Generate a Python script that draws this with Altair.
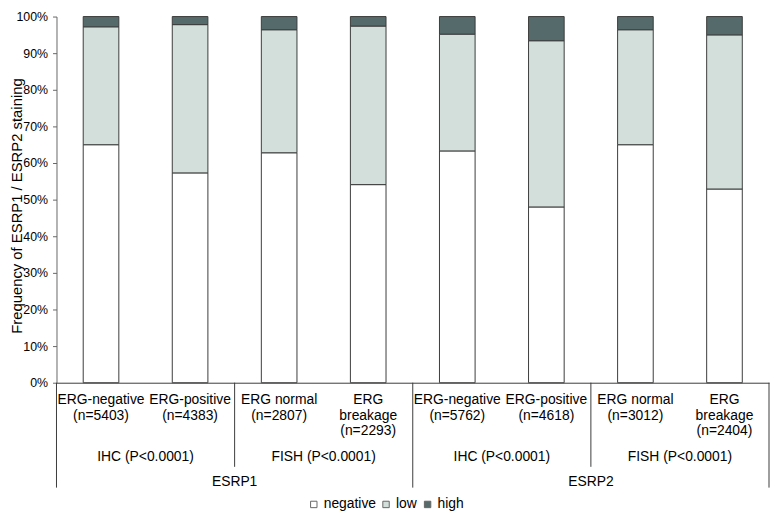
import altair as alt
import pandas as pd

# ---- data ----
markers = ["ESRP1", "ESRP2"]
methods = ["IHC (P<0.0001)", "FISH (P<0.0001)", "IHC (P<0.0001)", "FISH (P<0.0001)"]
categories = ["ERG-negative", "ERG-positive", "ERG normal", "ERG breakage",
              "ERG-negative", "ERG-positive", "ERG normal", "ERG breakage"]
n_values = [5403, 4383, 2807, 2293, 5762, 4618, 3012, 2404]
negative = [65.0, 57.3, 62.8, 54.1, 63.3, 48.0, 65.0, 52.9]
low = [32.2, 40.5, 33.6, 43.3, 31.9, 45.4, 31.4, 42.1]
high = [2.8, 2.2, 3.6, 2.6, 4.8, 6.6, 3.6, 5.0]
levels = ["negative", "low", "high"]
level_colors = ["#ffffff", "#d3dfdb", "#556a6a"]

# ---- layout ----
W, H = 720, 370
FONT = "Liberation Sans"

rows = []
for i in range(len(categories)):
    base = 0.0
    for lvl, vals in zip(levels, [negative, low, high]):
        rows.append({"idx": i, "x0": i + 0.3, "x1": i + 0.7, "level": lvl,
                     "order": levels.index(lvl), "y0": base, "y1": base + vals[i]})
        base += vals[i]
bars = pd.DataFrame(rows)

cat_df = pd.DataFrame({
    "pos": [i + 0.5 for i in range(len(categories))],
    "label": [(c.replace(" ", "\n") if c == "ERG breakage" else c) + f"\n(n={n})"
              for c, n in zip(categories, n_values)],
})
meth_df = pd.DataFrame({"pos": [2 * k + 1 for k in range(len(methods))], "label": methods})
mark_df = pd.DataFrame({"pos": [4 * k + 2 for k in range(len(markers))], "label": markers})
outer_df = pd.DataFrame({"pos": [0, 4, 8]})
inner_df = pd.DataFrame({"pos": [2, 6]})

xscale = alt.Scale(domain=[0, len(categories)], nice=False, zero=False)
yscale = alt.Scale(domain=[0, 100], nice=False)

bar_layer = alt.Chart(bars).mark_bar(stroke="#3c3c3c", strokeWidth=1).encode(
    x=alt.X("x0:Q", scale=xscale,
            axis=alt.Axis(labels=False, ticks=False, grid=False, title=None,
                          domainColor="#3c3c3c")),
    x2="x1:Q",
    y=alt.Y("y0:Q", scale=yscale,
            axis=alt.Axis(values=list(range(0, 101, 10)), labelExpr="datum.value + '%'",
                          tickSize=4, labelPadding=5, labelFontSize=12.5,
                          labelColor="#000", domainColor="#666", tickColor="#666",
                          grid=False, title="Frequency of ESRP1 / ESRP2 staining",
                          titleFontSize=15, titleFontWeight="normal", titleColor="#000",
                          titleAngle=270, titleX=-32, titleY=H / 2 + 6)),
    y2="y1:Q",
    fill=alt.Fill("level:N", scale=alt.Scale(domain=levels, range=level_colors),
                  legend=alt.Legend(title=None, orient="none", direction="horizontal",
                                    legendX=253, legendY=H + 116,
                                    symbolType="square", symbolSize=42,
                                    symbolStrokeColor="#666", symbolStrokeWidth=1,
                                    labelFontSize=14, labelColor="#000",
                                    labelOffset=3, columnPadding=3)),
    order=alt.Order("order:Q"),
)

outer_rules = alt.Chart(outer_df).mark_rule(color="#3c3c3c", strokeWidth=1).encode(
    x=alt.X("pos:Q", scale=xscale), y=alt.value(H), y2=alt.value(H + 106))
inner_rules = alt.Chart(inner_df).mark_rule(color="#3c3c3c", strokeWidth=1).encode(
    x=alt.X("pos:Q", scale=xscale), y=alt.value(H), y2=alt.value(H + 85))

cat_text = alt.Chart(cat_df).mark_text(
    fontSize=14, baseline="top", align="center", lineBreak="\n", lineHeight=15.5,
    color="#000").encode(x=alt.X("pos:Q", scale=xscale), y=alt.value(H + 11), text="label:N")
meth_text = alt.Chart(meth_df).mark_text(
    fontSize=14, baseline="middle", align="center", color="#000").encode(
    x=alt.X("pos:Q", scale=xscale), y=alt.value(H + 75), text="label:N")
mark_text = alt.Chart(mark_df).mark_text(
    fontSize=14, baseline="middle", align="center", color="#000").encode(
    x=alt.X("pos:Q", scale=xscale), y=alt.value(H + 100), text="label:N")

chart = alt.layer(bar_layer, outer_rules, inner_rules, cat_text, meth_text, mark_text).properties(
    width=W, height=H,
    autosize=alt.AutoSizeParams(type="none"),
    padding={"left": 49, "top": 6, "right": 1, "bottom": 128},
).configure(font=FONT).configure_view(stroke=None)

chart.save("out.html", embed_options={"renderer": "svg", "actions": False})
